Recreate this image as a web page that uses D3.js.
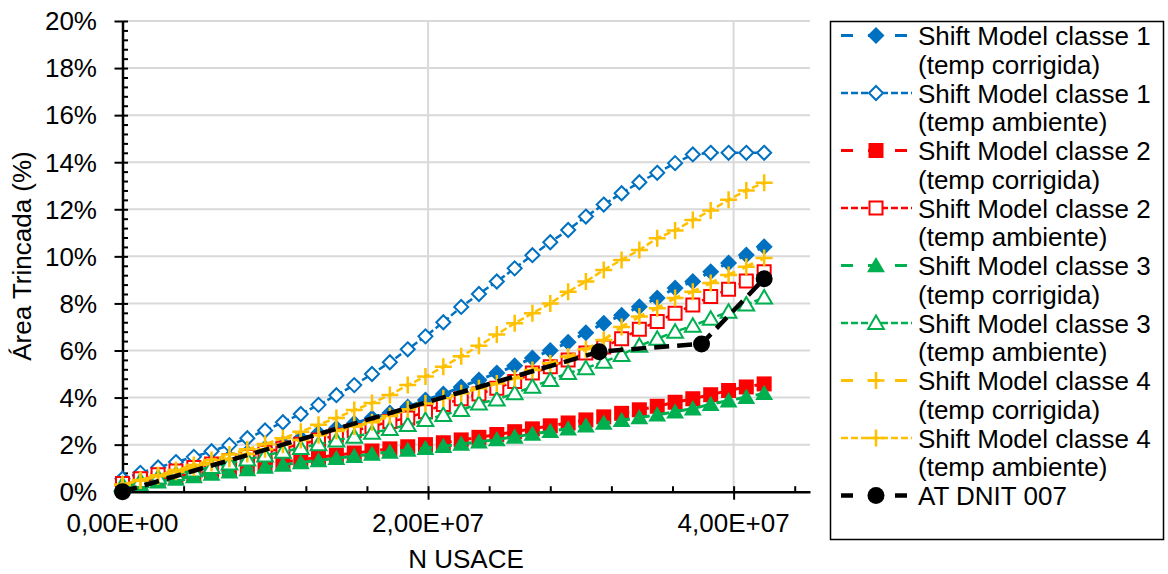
<!DOCTYPE html>
<html>
<head>
<meta charset="utf-8">
<script src="https://cdn.jsdelivr.net/npm/d3@7"></script>
<style>
  body { margin: 0; background: #fff; }
  text { font-family: "Liberation Sans", Arial, sans-serif; fill: #000; }
</style>
</head>
<body>
<svg id="chart" width="1168" height="574"></svg>
<script>
// N USACE at each step of the Shift Model series
var nUsace = [0, 1.17e6, 2.33e6, 3.5e6, 4.67e6, 5.83e6, 7.0e6, 8.17e6, 9.33e6, 10.5e6,
  11.67e6, 12.83e6, 14.0e6, 15.17e6, 16.33e6, 17.5e6, 18.67e6, 19.83e6, 21.0e6, 22.17e6,
  23.33e6, 24.5e6, 25.67e6, 26.83e6, 28.0e6, 29.17e6, 30.33e6, 31.5e6, 32.67e6, 33.83e6,
  35.0e6, 36.17e6, 37.33e6, 38.5e6, 39.67e6, 40.83e6, 42.0e6];

// area trincada (%)
var classe1Corr = [0.25, 0.45, 0.65, 0.85, 1.05, 1.25, 1.45, 1.65, 1.85, 2.05, 2.27, 2.48, 2.7,
  2.91, 3.13, 3.34, 3.6, 3.9, 4.15, 4.45, 4.75, 5.04, 5.35, 5.68, 6.0, 6.35, 6.75, 7.16, 7.5,
  7.86, 8.23, 8.65, 8.93, 9.35, 9.72, 10.06, 10.41];
var classe1Amb = [0.55, 0.8, 1.03, 1.26, 1.48, 1.72, 1.98, 2.27, 2.6, 2.95, 3.3, 3.69, 4.1,
  4.53, 5.0, 5.5, 6.05, 6.6, 7.2, 7.85, 8.4, 8.93, 9.49, 10.05, 10.6, 11.12, 11.69, 12.2,
  12.68, 13.15, 13.55, 13.96, 14.33, 14.4, 14.4, 14.4, 14.4];
var classe2Corr = [0.3, 0.42, 0.53, 0.64, 0.75, 0.86, 0.96, 1.06, 1.16, 1.26, 1.36, 1.46, 1.55,
  1.64, 1.73, 1.82, 1.91, 2.0, 2.08, 2.2, 2.31, 2.43, 2.55, 2.67, 2.8, 2.92, 3.05, 3.18, 3.33,
  3.48, 3.63, 3.8, 3.95, 4.12, 4.3, 4.45, 4.58];
var classe2Amb = [0.35, 0.55, 0.72, 0.88, 1.03, 1.18, 1.33, 1.5, 1.68, 1.85, 2.02, 2.2, 2.4,
  2.6, 2.77, 2.98, 3.13, 3.4, 3.7, 3.95, 4.15, 4.4, 4.68, 5.04, 5.31, 5.6, 5.89, 6.15, 6.5,
  6.9, 7.23, 7.58, 7.93, 8.29, 8.6, 8.95, 9.35];
var classe3Corr = [0.2, 0.32, 0.43, 0.54, 0.65, 0.75, 0.85, 0.95, 1.05, 1.14, 1.24, 1.33, 1.42,
  1.51, 1.6, 1.69, 1.77, 1.85, 1.93, 2.03, 2.12, 2.22, 2.33, 2.45, 2.57, 2.68, 2.8, 2.92, 3.04,
  3.15, 3.27, 3.4, 3.53, 3.72, 3.87, 4.02, 4.18];
var classe3Amb = [0.3, 0.45, 0.6, 0.75, 0.9, 1.05, 1.2, 1.37, 1.54, 1.7, 1.86, 2.02, 2.18,
  2.34, 2.5, 2.66, 2.83, 3.05, 3.26, 3.47, 3.75, 3.92, 4.18, 4.46, 4.75, 5.04, 5.25, 5.52, 5.81,
  6.2, 6.5, 6.8, 7.05, 7.35, 7.65, 7.95, 8.25];
var classe4Corr = [0.3, 0.48, 0.66, 0.85, 1.03, 1.22, 1.4, 1.6, 1.8, 2.0, 2.2, 2.4, 2.58,
  2.77, 2.95, 3.22, 3.5, 3.75, 3.97, 4.18, 4.4, 4.6, 4.82, 5.17, 5.46, 5.74, 6.05, 6.45, 7.0,
  7.44, 7.8, 8.23, 8.5, 8.87, 9.21, 9.56, 9.93];
var classe4Amb = [0.3, 0.5, 0.7, 0.92, 1.13, 1.35, 1.58, 1.8, 2.03, 2.27, 2.55, 2.85, 3.13,
  3.47, 3.77, 4.11, 4.53, 4.89, 5.31, 5.75, 6.2, 6.68, 7.16, 7.58, 8.0, 8.5, 8.93, 9.42, 9.85,
  10.27, 10.77, 11.1, 11.54, 11.95, 12.4, 12.8, 13.13];

// AT DNIT 007 points
var dnitN = [0, 3.12e7, 3.79e7, 4.2e7];
var dnitArea = [0, 5.95, 6.28, 9.05];

var seriesNames = [
  ["Shift Model classe 1", "(temp corrigida)"],
  ["Shift Model classe 1", "(temp ambiente)"],
  ["Shift Model classe 2", "(temp corrigida)"],
  ["Shift Model classe 2", "(temp ambiente)"],
  ["Shift Model classe 3", "(temp corrigida)"],
  ["Shift Model classe 3", "(temp ambiente)"],
  ["Shift Model classe 4", "(temp corrigida)"],
  ["Shift Model classe 4", "(temp ambiente)"],
  ["AT DNIT 007"]
];

var xMajor = [0, 2e7, 4e7];
var yMajor = [0, 2, 4, 6, 8, 10, 12, 14, 16, 18, 20];

var blue = "#0070C0", red = "#FF0000", green = "#00B050", yellow = "#FFC000";

// marker shapes, size = half width
var shapes = {
  diamond: { draw: function (c, r) { c.moveTo(0, -r); c.lineTo(r, 0); c.lineTo(0, r); c.lineTo(-r, 0); c.closePath(); } },
  square: { draw: function (c, r) { c.rect(-r, -r, 2 * r, 2 * r); } },
  triangle: { draw: function (c, r) { c.moveTo(0, -r); c.lineTo(r * 1.05, r * 0.8); c.lineTo(-r * 1.05, r * 0.8); c.closePath(); } },
  plus: { draw: function (c, r) { c.moveTo(-r, 0); c.lineTo(r, 0); c.moveTo(0, -r); c.lineTo(0, r); } },
  circle: { draw: function (c, r) { c.moveTo(r, 0); c.arc(0, 0, r, 0, 2 * Math.PI); } }
};

var longDash = "12,8", shortDash = "7,3";

var series = [
  { ys: classe1Corr, color: blue, shape: "diamond", r: 8.5, fill: true, dash: longDash, lw: 3 },
  { ys: classe1Amb, color: blue, shape: "diamond", r: 7, fill: false, dash: shortDash, lw: 2.5 },
  { ys: classe2Corr, color: red, shape: "square", r: 7.5, fill: true, dash: longDash, lw: 3 },
  { ys: classe2Amb, color: red, shape: "square", r: 6.5, fill: false, dash: shortDash, lw: 2.5 },
  { ys: classe3Corr, color: green, shape: "triangle", r: 8.5, fill: true, dash: longDash, lw: 3 },
  { ys: classe3Amb, color: green, shape: "triangle", r: 7.5, fill: false, dash: shortDash, lw: 2.5 },
  { ys: classe4Corr, color: yellow, shape: "plus", r: 8.5, fill: false, cross: true, dash: longDash, lw: 3 },
  { ys: classe4Amb, color: yellow, shape: "plus", r: 8.5, fill: false, cross: true, dash: shortDash, lw: 2.5 }
].map(function (s) {
  s.points = nUsace.map(function (n, i) { return [n, s.ys[i]]; });
  return s;
});
series.push({
  points: dnitN.map(function (n, i) { return [n, dnitArea[i]]; }),
  color: "#000", shape: "circle", r: 8.5, fill: true, dash: "15,8", lw: 4.5
});

var svg = d3.select("#chart");

var x = d3.scaleLinear().domain([0, 4.5e7]).range([122.5, 810]);
var y = d3.scaleLinear().domain([0, 20]).range([491.7, 21]);

function fmtSci(v) {
  if (v === 0) return "0,00E+00";
  var e = Math.floor(Math.log10(v));
  var m = v / Math.pow(10, e);
  return m.toFixed(2).replace(".", ",") + "E+" + (e < 10 ? "0" + e : e);
}

// gridlines
var grid = svg.append("g").attr("stroke", "#D9D9D9").attr("stroke-width", 2);
grid.selectAll(".hg")
  .data(yMajor.filter(function (d) { return d > 0; }))
  .enter()
  .append("line")
  .attr("x1", x(0))
  .attr("x2", x(4.5e7))
  .attr("y1", function (d) { return y(d); })
  .attr("y2", function (d) { return y(d); });
grid.selectAll(".vg")
  .data(xMajor.filter(function (d) { return d > 0; }))
  .enter()
  .append("line")
  .attr("y1", y(0))
  .attr("y2", y(20))
  .attr("x1", function (d) { return x(d); })
  .attr("x2", function (d) { return x(d); });

// axes
var yAxis = d3.axisLeft(y)
  .tickValues(d3.range(0, 20.01, 0.4))
  .tickSize(0)
  .tickFormat("");
var yG = svg.append("g").attr("transform", "translate(" + x(0) + ",0)").call(yAxis);
yG.select(".domain").attr("stroke", "#000").attr("stroke-width", 2.5);
yG.selectAll(".tick line").attr("x1", 0).attr("x2", 5.5).attr("stroke", "#000").attr("stroke-width", 2);
yG.selectAll(".tick").filter(function (d) { return Math.abs(d / 2 - Math.round(d / 2)) < 1e-6; })
  .select("line").attr("x1", -8);

var xAxis = d3.axisBottom(x)
  .tickValues(d3.range(0, 4.41e7, 4e6))
  .tickSize(0)
  .tickFormat("");
var xG = svg.append("g").attr("transform", "translate(0," + y(0) + ")").call(xAxis);
xG.select(".domain").attr("stroke", "#000").attr("stroke-width", 2.5);
xG.selectAll(".tick line").attr("y1", 0).attr("y2", -5.5).attr("stroke", "#000").attr("stroke-width", 2);
xG.selectAll(".tick").filter(function (d) { return xMajor.indexOf(d) >= 0; })
  .select("line").attr("y2", 8).attr("y1", -5.5);

// tick labels
svg.append("g").selectAll("text")
  .data(yMajor)
  .enter()
  .append("text")
  .attr("x", 97)
  .attr("y", function (d) { return y(d) + 9.3; })
  .attr("text-anchor", "end")
  .style("font-size", "26px")
  .text(function (d) { return d + "%"; });

svg.append("g").selectAll("text")
  .data(xMajor)
  .enter()
  .append("text")
  .attr("x", function (d) { return x(d); })
  .attr("y", 532)
  .attr("text-anchor", "middle")
  .style("font-size", "26px")
  .text(fmtSci);

// axis titles
svg.append("text")
  .attr("x", 466)
  .attr("y", 568)
  .attr("text-anchor", "middle")
  .style("font-size", "26px")
  .text("N USACE");
svg.append("text")
  .attr("transform", "translate(31,256) rotate(-90)")
  .attr("text-anchor", "middle")
  .style("font-size", "26px")
  .text("Área Trincada (%)");

// series lines + markers
var line = d3.line()
  .x(function (d) { return x(d[0]); })
  .y(function (d) { return y(d[1]); });

function markerStyle(sel, s) {
  sel.attr("d", d3.symbol().type(shapes[s.shape]).size(s.r))
    .attr("fill", s.cross ? "none" : (s.fill ? s.color : "#fff"))
    .attr("stroke", s.fill && !s.cross ? "none" : s.color)
    .attr("stroke-width", s.cross ? 2.5 : 2);
}

series.forEach(function (s) {
  var g = svg.append("g");
  g.append("path")
    .datum(s.points)
    .attr("d", line)
    .attr("fill", "none")
    .attr("stroke", s.color)
    .attr("stroke-width", s.lw)
    .attr("stroke-dasharray", s.dash);
  g.selectAll("path.m")
    .data(s.points)
    .enter()
    .append("path")
    .attr("class", "m")
    .attr("transform", function (d) { return "translate(" + x(d[0]) + "," + y(d[1]) + ")"; })
    .call(markerStyle, s);
});

// legend
var legend = svg.append("g");
legend.append("rect")
  .attr("x", 830.5)
  .attr("y", 21.5)
  .attr("width", 333)
  .attr("height", 518)
  .attr("fill", "#fff")
  .attr("stroke", "#000")
  .attr("stroke-width", 1.5);

var lineH = 28.75;
series.forEach(function (s, k) {
  var base = 45 + 2 * k * lineH;
  var cy = base - 9.5;
  var item = legend.append("g");
  item.append("line")
    .attr("x1", 841)
    .attr("x2", 912)
    .attr("y1", cy)
    .attr("y2", cy)
    .attr("stroke", s.color)
    .attr("stroke-width", s.lw)
    .attr("stroke-dasharray", s.dash === shortDash ? shortDash : "12,15");
  item.append("path")
    .attr("transform", "translate(876," + cy + ")")
    .call(markerStyle, s);
  seriesNames[k].forEach(function (t, j) {
    item.append("text")
      .attr("x", 918)
      .attr("y", base + j * lineH)
      .style("font-size", "26px")
      .text(t);
  });
});
</script>
</body>
</html>
